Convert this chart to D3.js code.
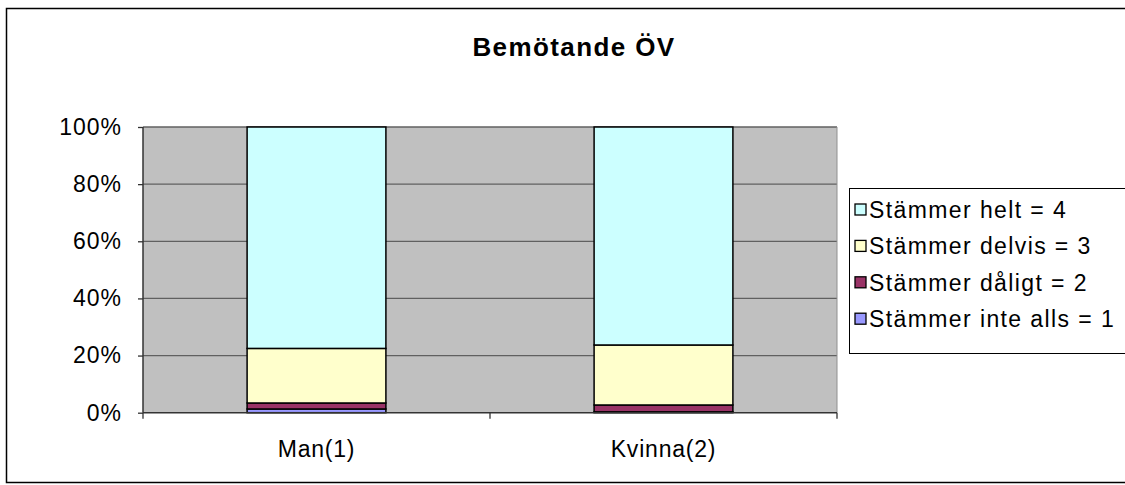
<!DOCTYPE html>
<html><head><meta charset="utf-8">
<script src="https://cdn.jsdelivr.net/npm/d3@7"></script>
<style>body{margin:0;background:#fff;}svg{display:block;font-family:"Liberation Sans",Arial,sans-serif;}</style>
</head><body>
<script>
const categories = ["Man(1)", "Kvinna(2)"];
const seriesNames = ["Stämmer inte alls = 1", "Stämmer dåligt = 2", "Stämmer delvis = 3", "Stämmer helt = 4"];
const inteAlls = [1.3, 0.3];
const daligt = [2.1, 2.4];
const delvis = [19.1, 21.0];
const helt = [77.5, 76.3];
const yTicks = [0, 0.2, 0.4, 0.6, 0.8, 1.0];
const colors = ["#9999FF", "#993366", "#FFFFCC", "#CCFFFF"];
const title = "Bemötande ÖV";

const W = 1125, H = 485;
const m = {left: 143, right: 837, top: 127, bottom: 412.7};
const FF = "Liberation Sans, Arial, sans-serif";
const svg = d3.select("body").append("svg").attr("width", W).attr("height", H);

svg.append("rect").attr("x", 6.5).attr("y", 8.5).attr("width", 1140).attr("height", 474)
  .attr("fill", "none").attr("stroke", "#000").attr("stroke-width", 1.5);

svg.append("text").attr("x", 574).attr("y", 56).attr("text-anchor", "middle")
  .attr("font-weight", "bold").attr("font-size", 26).attr("letter-spacing", 1.4).text(title);

const x = d3.scaleBand().domain(categories).range([m.left, m.right]).paddingInner(0.6).paddingOuter(0.3);
const y = d3.scaleLinear().domain([0, 1]).range([m.bottom, m.top]);

svg.append("rect").attr("x", m.left).attr("y", m.top).attr("width", m.right - m.left)
  .attr("height", m.bottom - m.top).attr("fill", "#C0C0C0");

// gridlines
svg.append("g").selectAll("line").data(yTicks.slice(1)).join("line")
  .attr("x1", m.left).attr("x2", m.right).attr("y1", d => y(d)).attr("y2", d => y(d))
  .attr("stroke", "#606060").attr("stroke-width", 1.3);
svg.append("line").attr("x1", m.right).attr("x2", m.right).attr("y1", m.top).attr("y2", m.bottom)
  .attr("stroke", "#909090").attr("stroke-width", 1);

// stack
const rows = categories.map((c, i) => ({cat: c, s0: inteAlls[i], s1: daligt[i], s2: delvis[i], s3: helt[i]}));
const stack = d3.stack().keys(["s0", "s1", "s2", "s3"]).offset(d3.stackOffsetExpand)(rows);
svg.append("g").selectAll("g").data(stack).join("g").attr("fill", (d, i) => colors[i])
  .selectAll("rect").data(d => d).join("rect")
  .attr("x", d => x(d.data.cat)).attr("width", x.bandwidth())
  .attr("y", d => y(d[1])).attr("height", d => y(d[0]) - y(d[1]))
  .attr("stroke", "#000").attr("stroke-width", 1.5);

// axes
const yAxis = d3.axisLeft(y).tickValues(yTicks).tickFormat(d3.format(".0%")).tickSize(5).tickPadding(16);
const gy = svg.append("g").attr("transform", `translate(${m.left},0)`).call(yAxis);
gy.select(".domain").attr("stroke", "#333").attr("stroke-width", 1.5).attr("d", `M-0,${m.top}V${m.bottom}`);
gy.selectAll(".tick line").attr("stroke", "#333").attr("stroke-width", 1.3);
gy.selectAll("text").attr("font-size", 23).attr("letter-spacing", 1).attr("fill", "#000").attr("font-family", FF);

const xAxis = d3.axisBottom(x).tickSize(0).tickPadding(0);
const gx = svg.append("g").attr("transform", `translate(0,${m.bottom})`).call(xAxis);
gx.select(".domain").attr("stroke", "#333").attr("stroke-width", 1.5).attr("d", `M${m.left},0H${m.right}`);
gx.selectAll("text").attr("y", 44).attr("dy", 0).attr("font-size", 23).attr("letter-spacing", 0.8)
  .attr("fill", "#000").attr("font-family", FF);
const sep = [m.left, (x(categories[0]) + x.bandwidth() + x(categories[1])) / 2, m.right];
gx.append("g").selectAll("line").data(sep).join("line")
  .attr("x1", d => d).attr("x2", d => d).attr("y1", 0).attr("y2", 6)
  .attr("stroke", "#333").attr("stroke-width", 1.3);

// legend
const lg = svg.append("g");
lg.append("rect").attr("x", 849.5).attr("y", 188.5).attr("width", 290).attr("height", 165)
  .attr("fill", "#fff").attr("stroke", "#000").attr("stroke-width", 1);
const order = [3, 2, 1, 0];
const items = lg.selectAll("g").data(order).join("g")
  .attr("transform", (d, i) => `translate(855,${210 + i * 36.4})`);
items.append("rect").attr("x", 0).attr("y", -6).attr("width", 11).attr("height", 11)
  .attr("fill", d => colors[d]).attr("stroke", "#000").attr("stroke-width", 1.3);
items.append("text").attr("x", 14).attr("y", 8).attr("font-size", 23).attr("letter-spacing", 1.4)
  .text(d => seriesNames[d]);
</script>
</body></html>
